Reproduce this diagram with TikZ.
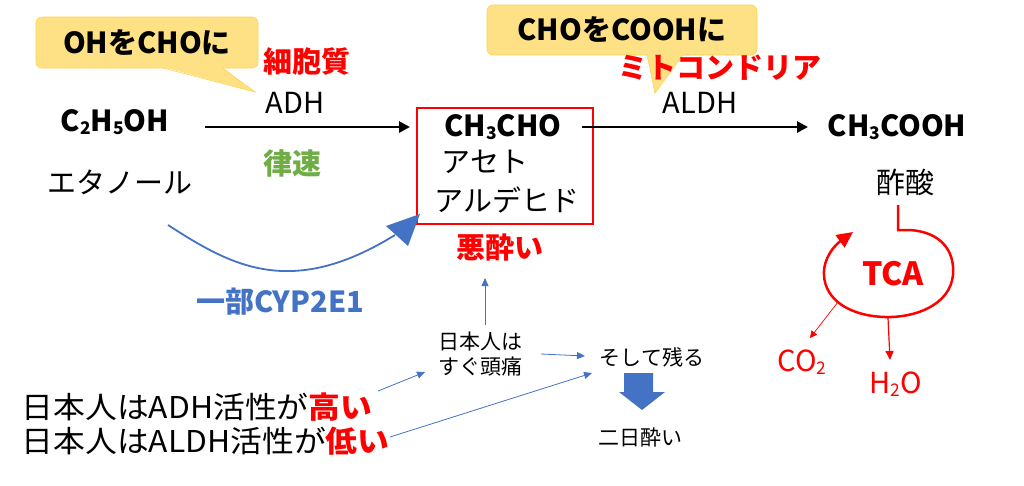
\documentclass[tikz,border=0pt]{standalone}
\usepackage{fontspec}
\setmainfont{Noto Sans CJK JP}
\usetikzlibrary{arrows.meta}
\definecolor{bl}{HTML}{4472C4}
\definecolor{gr}{HTML}{70AD47}
\definecolor{cf}{HTML}{FFD966}
\definecolor{cb}{HTML}{FFC000}
\newcommand{\sbx}[1]{\raisebox{-0.12em}{\scalebox{0.6}{#1}}}
\begin{document}
\begin{tikzpicture}[x=1pt,y=-1pt,
 big/.style={font=\fontsize{29}{31}\selectfont\bfseries},
 reg/.style={font=\fontsize{29}{31}\selectfont},
 sm/.style={font=\fontsize{21}{25}\selectfont},
 rd/.style={text=red},
 thin/.style={draw=bl,line width=0.8pt,-{Triangle[length=8pt,width=7pt]}},
 callout/.style={fill=cf!80,draw=cb!70,line width=0.6pt,rounded corners=6pt}]
\useasboundingbox (0,0) rectangle (1024,485);
% callouts
\draw[callout] (36,17) rectangle (258,68);
\fill[cf!80] (163,67) -- (255,92) -- (222,67) -- cycle;
\draw[cb!70,line width=0.6pt] (163,68) -- (255,92) -- (222,68);
\node[big] (c1) at (147,43) {OHをCHOに};
\draw[callout] (487,5) rectangle (757,55);
\fill[cf!80] (647,54) -- (655,93) -- (683,54) -- cycle;
\draw[cb!70,line width=0.6pt] (647,55) -- (655,93) -- (683,55);
\node[big] (c2) at (622,30) {CHOをCOOHに};
% main
\node[big] (eth) at (115,122) {C\sbx{2}H\sbx{5}OH};
\node[reg] (ethj) at (120,182) {エタノール};
\node[big,rd] (cyto) at (307,62) {細胞質};
\node[reg] (adh) at (295,103) {ADH};
\node[big,text=gr] (rs) at (292,163) {律速};
\node[draw=red,line width=1.5pt,minimum width=176pt,minimum height=116pt] (box) at (505,166) {};
\node[big] (acet) at (503,127) {CH\sbx{3}CHO};
\node[reg] (a1) at (485,162) {アセト};
\node[reg] (a2) at (507,200) {アルデヒド};
\node[big,rd] (mito) at (720,68) {ミトコンドリア};
\node[reg] (aldh) at (700,103) {ALDH};
\node[big] (acid) at (897,127) {CH\sbx{3}COOH};
\node[reg] (acidj) at (905,182) {酢酸};
\coordinate (e1) at (205,127); \coordinate (e2) at (410,127);
\draw[line width=2.8pt,-{Triangle[length=11pt,width=11pt]}] (e1) -- (e2);
\coordinate (f1) at (582,127); \coordinate (f2) at (808,127);
\draw[line width=2.8pt,-{Triangle[length=11pt,width=11pt]}] (f1) -- (f2);
% TCA
\coordinate (L1) at (898,205); \coordinate (L2) at (898,230);
\draw[draw=red,line width=2.5pt,-{Triangle[length=16pt,width=15pt]}] (L1) -- (L2) -- (910,230)
 .. controls (940,232) and (955,250) .. (953,275)
 .. controls (950,305) and (915,318) .. (885,317)
 .. controls (850,316) and (825,300) .. (824,275)
 .. controls (823,258) and (835,245) .. (853,232);
\node[rd,font=\fontsize{32}{34}\selectfont\bfseries] (tca) at (893,274) {TCA};
\node[reg,rd] (co2) at (802,362) {CO\sbx{2}};
\node[reg,rd] (h2o) at (896,384) {H\sbx{2}O};
\coordinate (t1) at (838,302); \coordinate (t2) at (888,318);
\draw[draw=red,line width=0.7pt,-{Triangle[length=7pt,width=7pt]}] (t1) -- (810,338);
\draw[draw=red,fill=red,line width=1.2pt,-{Triangle[length=9pt,width=8pt]}] (t2) -- (890,360);
% CYP
\coordinate (y1) at (168,225);
\draw[bl,line width=1.8pt] (y1) .. controls (230,265) and (290,300) .. (395,235);
\fill[bl] (420,214) -- (386,226) -- (408,246) -- cycle;
\node[big,text=bl] (cyp) at (280,302) {一部CYP2E1};
\node[big,rd] (bad) at (500,248) {悪酔い};
% bottom
\node[sm,align=left] (jp) at (480,354) {日本人は\\すぐ頭痛};
\node[sm] (soshite) at (652,357) {そして残る};
\node[sm] (futsuka) at (640,438) {二日酔い};
\node[font=\fontsize{30}{32}\selectfont,anchor=west,xscale=1.06] (l1) at (18,407) {日本人はADH活性が\textcolor{red}{\bfseries 高い}};
\node[font=\fontsize{30}{32}\selectfont,anchor=west,xscale=1.06] (l2) at (18,441) {日本人はALDH活性が\textcolor{red}{\bfseries 低い}};
\draw[thin] (485,325) -- (485,278);
\draw[thin] (541,354) -- (585,356);
\draw[thin] (378,391) -- (425,372);
\draw[thin] (390,437) -- (592,373);
\fill[bl] (624,373) -- (653,373) -- (653,392) -- (665,392) -- (642,410) -- (619,392) -- (624,392) -- cycle;
\end{tikzpicture}
\end{document}
